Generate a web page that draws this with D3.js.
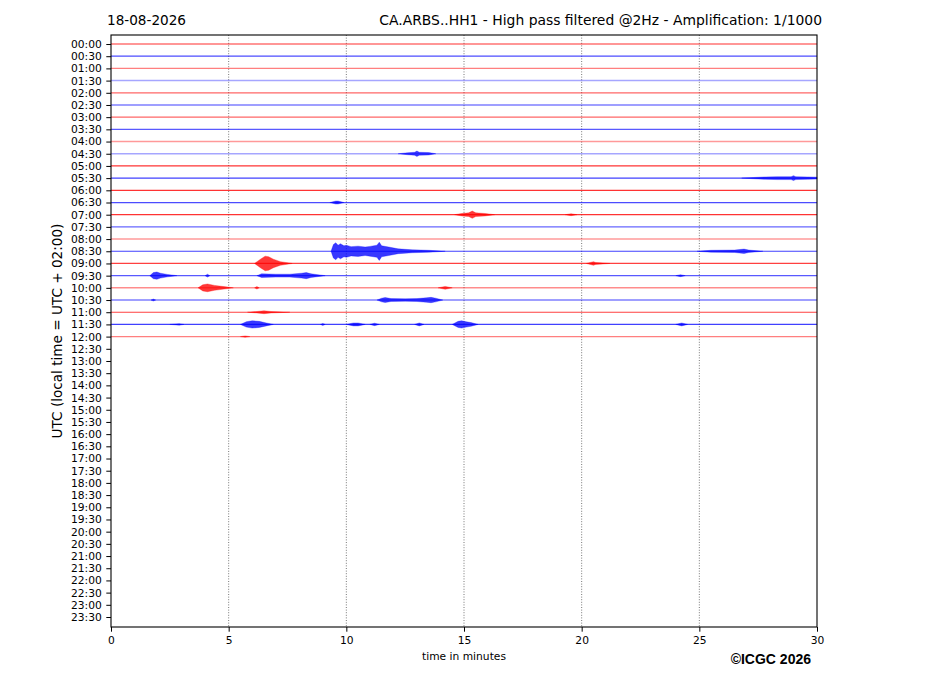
<!DOCTYPE html>
<html>
<head>
<meta charset="utf-8">
<script src="https://cdn.jsdelivr.net/npm/d3@7"></script>
<style>
  body { margin: 0; background: #fff; }
  svg { font-family: "DejaVu Sans", sans-serif; }
</style>
</head>
<body>
<div class="heli"></div>
<script>
// tick labels, one per 30-minute row
const rowLabels = ["00:00","00:30","01:00","01:30","02:00","02:30","03:00","03:30","04:00","04:30",
    "05:00","05:30","06:00","06:30","07:00","07:30","08:00","08:30","09:00","09:30",
    "10:00","10:30","11:00","11:30","12:00","12:30","13:00","13:30","14:00","14:30",
    "15:00","15:30","16:00","16:30","17:00","17:30","18:00","18:30","19:00","19:30",
    "20:00","20:30","21:00","21:30","22:00","22:30","23:00","23:30"];
const xTicks = [0, 5, 10, 15, 20, 25, 30];

// background noise strength of each recorded row (00:00 .. 12:00)
const rowNoise = [0.55, 0.7, 0.5, 0.35, 0.6, 0.75, 0.6, 0.65, 0.4, 0.35,
    0.8, 0.75, 0.8, 0.7, 0.8, 0.6, 0.4, 0.75, 0.75, 0.65,
    0.45, 0.5, 0.75, 0.75, 0.5];

// bursts: row index, times (minutes) and half amplitude (in row heights)
const bursts = [
    { row: 9,  t: [12.2, 12.6, 12.9, 13.0, 13.1, 13.5, 13.8], a: [0, 0.08, 0.12, 0.22, 0.12, 0.1, 0] },
    { row: 11, t: [26.8, 27.3, 27.8, 28.3, 28.9, 29.0, 29.1, 29.6, 30], a: [0, 0.05, 0.1, 0.12, 0.12, 0.2, 0.12, 0.1, 0.08] },
    { row: 13, t: [9.3, 9.55, 9.65, 9.9], a: [0, 0.12, 0.12, 0] },
    { row: 14, t: [14.6, 14.9, 15.2, 15.35, 15.5, 15.9, 16.3], a: [0, 0.1, 0.15, 0.3, 0.15, 0.1, 0] },
    { row: 14, t: [19.3, 19.55, 19.8], a: [0, 0.08, 0] },
    { row: 17, t: [9.35, 9.45, 9.55, 9.65, 9.75, 9.9, 10.0, 10.2, 10.5, 10.8, 11.0, 11.3, 11.4, 11.5, 11.8, 12.2, 12.8, 13.5, 14.2],
               a: [0, 0.55, 0.7, 0.5, 0.62, 0.45, 0.5, 0.38, 0.42, 0.35, 0.4, 0.5, 0.75, 0.45, 0.35, 0.2, 0.12, 0.08, 0] },
    { row: 17, t: [24.9, 25.5, 26.5, 26.9, 27.1, 27.7], a: [0, 0.08, 0.1, 0.18, 0.1, 0] },
    { row: 18, t: [6.1, 6.35, 6.55, 6.7, 6.9, 7.2, 7.7], a: [0, 0.35, 0.6, 0.55, 0.35, 0.15, 0] },
    { row: 18, t: [20.2, 20.5, 20.6, 21.2], a: [0, 0.15, 0.08, 0] },
    { row: 19, t: [1.65, 1.8, 1.95, 2.1, 2.4, 2.8], a: [0, 0.25, 0.3, 0.2, 0.1, 0] },
    { row: 19, t: [4.0, 4.1, 4.2], a: [0, 0.12, 0] },
    { row: 19, t: [6.2, 6.4, 7.0, 7.6, 8.1, 8.3, 8.5, 9.1], a: [0, 0.15, 0.12, 0.12, 0.2, 0.25, 0.15, 0] },
    { row: 19, t: [24.0, 24.2, 24.4], a: [0, 0.08, 0] },
    { row: 20, t: [3.7, 3.9, 4.1, 4.4, 4.8, 5.2], a: [0, 0.25, 0.32, 0.2, 0.1, 0] },
    { row: 20, t: [6.1, 6.2, 6.3], a: [0, 0.1, 0] },
    { row: 20, t: [13.9, 14.2, 14.5], a: [0, 0.12, 0] },
    { row: 21, t: [1.7, 1.8, 1.9], a: [0, 0.08, 0] },
    { row: 21, t: [11.3, 11.5, 11.65, 11.9, 12.5, 13.0, 13.4, 13.6, 13.8, 14.1], a: [0, 0.15, 0.2, 0.12, 0.1, 0.12, 0.18, 0.22, 0.15, 0] },
    { row: 22, t: [5.8, 6.2, 6.5, 6.8, 7.6], a: [0, 0.06, 0.12, 0.06, 0] },
    { row: 23, t: [2.5, 2.9, 3.1], a: [0, 0.06, 0] },
    { row: 23, t: [5.5, 5.75, 6.0, 6.3, 6.6, 6.9], a: [0, 0.22, 0.3, 0.25, 0.12, 0] },
    { row: 23, t: [8.9, 9.0, 9.1], a: [0, 0.08, 0] },
    { row: 23, t: [10.0, 10.3, 10.5, 10.8], a: [0, 0.12, 0.12, 0] },
    { row: 23, t: [11.0, 11.2, 11.4], a: [0, 0.1, 0] },
    { row: 23, t: [12.9, 13.1, 13.3], a: [0, 0.12, 0] },
    { row: 23, t: [14.5, 14.75, 14.9, 15.1, 15.3, 15.6], a: [0, 0.25, 0.3, 0.22, 0.15, 0] },
    { row: 23, t: [24.0, 24.25, 24.5], a: [0, 0.12, 0] },
    { row: 24, t: [5.5, 5.7, 5.9], a: [0, 0.06, 0] }
];

const width = 927;
const height = 696;
const margin = { top: 35, right: 110, bottom: 69, left: 111 };
const colors = ["#ff0000", "#0000ff"];

const svg = d3.select(".heli")
    .append("svg")
    .attr("width", width)
    .attr("height", height);

const x = d3.scaleLinear()
    .domain([0, 30])
    .range([margin.left, width - margin.right]);

const y = d3.scaleLinear()
    .domain([-0.74, rowLabels.length - 1 + 0.82])
    .range([margin.top, height - margin.bottom]);

const rowH = y(1) - y(0);

// dotted vertical grid
svg.append("g")
    .selectAll("line")
    .data(xTicks.slice(1, -1))
    .join("line")
    .attr("x1", d => x(d)).attr("x2", d => x(d))
    .attr("y1", y.range()[0]).attr("y2", y.range()[1])
    .attr("stroke", "#555")
    .attr("stroke-width", 0.8)
    .attr("stroke-dasharray", "1,1.6");

// trace baselines
svg.append("g")
    .selectAll("line")
    .data(rowNoise)
    .join("line")
    .attr("x1", x(0)).attr("x2", x(30))
    .attr("y1", (d, i) => y(i)).attr("y2", (d, i) => y(i))
    .attr("stroke", (d, i) => colors[i % 2])
    .attr("stroke-opacity", d => d)
    .attr("stroke-width", d => 1 + (1 - d) * 0.8);

// bursts as envelopes
const area = d3.area()
    .x(d => x(d[0]))
    .y0(d => d[1] - d[2] * rowH)
    .y1(d => d[1] + d[2] * rowH);

svg.append("g")
    .selectAll("path")
    .data(bursts)
    .join("path")
    .attr("d", b => area(b.t.map((t, i) => [t, y(b.row), b.a[i]])))
    .attr("fill", b => colors[b.row % 2])
    .attr("fill-opacity", 0.78)
    .attr("stroke", b => colors[b.row % 2])
    .attr("stroke-opacity", 0.6)
    .attr("stroke-width", 0.5);

// axes
const xAxis = svg.append("g")
    .attr("transform", `translate(0,${y.range()[1]})`)
    .call(d3.axisBottom(x).tickValues(xTicks).tickSize(4.7).tickPadding(4.5));

const yAxis = svg.append("g")
    .attr("transform", `translate(${x(0)},0)`)
    .call(d3.axisLeft(y).tickValues(d3.range(rowLabels.length)).tickFormat(i => rowLabels[i]).tickSize(4.7).tickPadding(4.5));

[xAxis, yAxis].forEach(g => {
    g.select(".domain").remove();
    g.selectAll("text").attr("font-size", "10.7px").attr("fill", "#000")
        .attr("font-family", "DejaVu Sans, sans-serif");
    g.selectAll("line").attr("stroke", "#000").attr("stroke-width", 1);
});

svg.append("rect")
    .attr("x", x(0)).attr("y", y.range()[0])
    .attr("width", x(30) - x(0)).attr("height", y.range()[1] - y.range()[0])
    .attr("fill", "none")
    .attr("stroke", "#000")
    .attr("stroke-width", 1.1);

// titles and labels
svg.append("text")
    .attr("x", 107).attr("y", 25)
    .attr("font-size", "13.6px")
    .text("18-08-2026");

svg.append("text")
    .attr("x", 822).attr("y", 25)
    .attr("text-anchor", "end")
    .attr("font-size", "13.9px")
    .text("CA.ARBS..HH1 - High pass filtered @2Hz - Amplification: 1/1000");

svg.append("text")
    .attr("transform", `translate(62,${(y.range()[0] + y.range()[1]) / 2}) rotate(-90)`)
    .attr("text-anchor", "middle")
    .attr("font-size", "13.6px")
    .text("UTC (local time = UTC + 02:00)");

svg.append("text")
    .attr("x", (x(0) + x(30)) / 2).attr("y", 660)
    .attr("text-anchor", "middle")
    .attr("font-size", "10.7px")
    .text("time in minutes");

svg.append("text")
    .attr("x", 811).attr("y", 664)
    .attr("text-anchor", "end")
    .attr("font-size", "14px")
    .attr("font-weight", "bold")
    .attr("font-family", "Liberation Sans, Arial, sans-serif")
    .text("©ICGC 2026");
</script>
</body>
</html>
